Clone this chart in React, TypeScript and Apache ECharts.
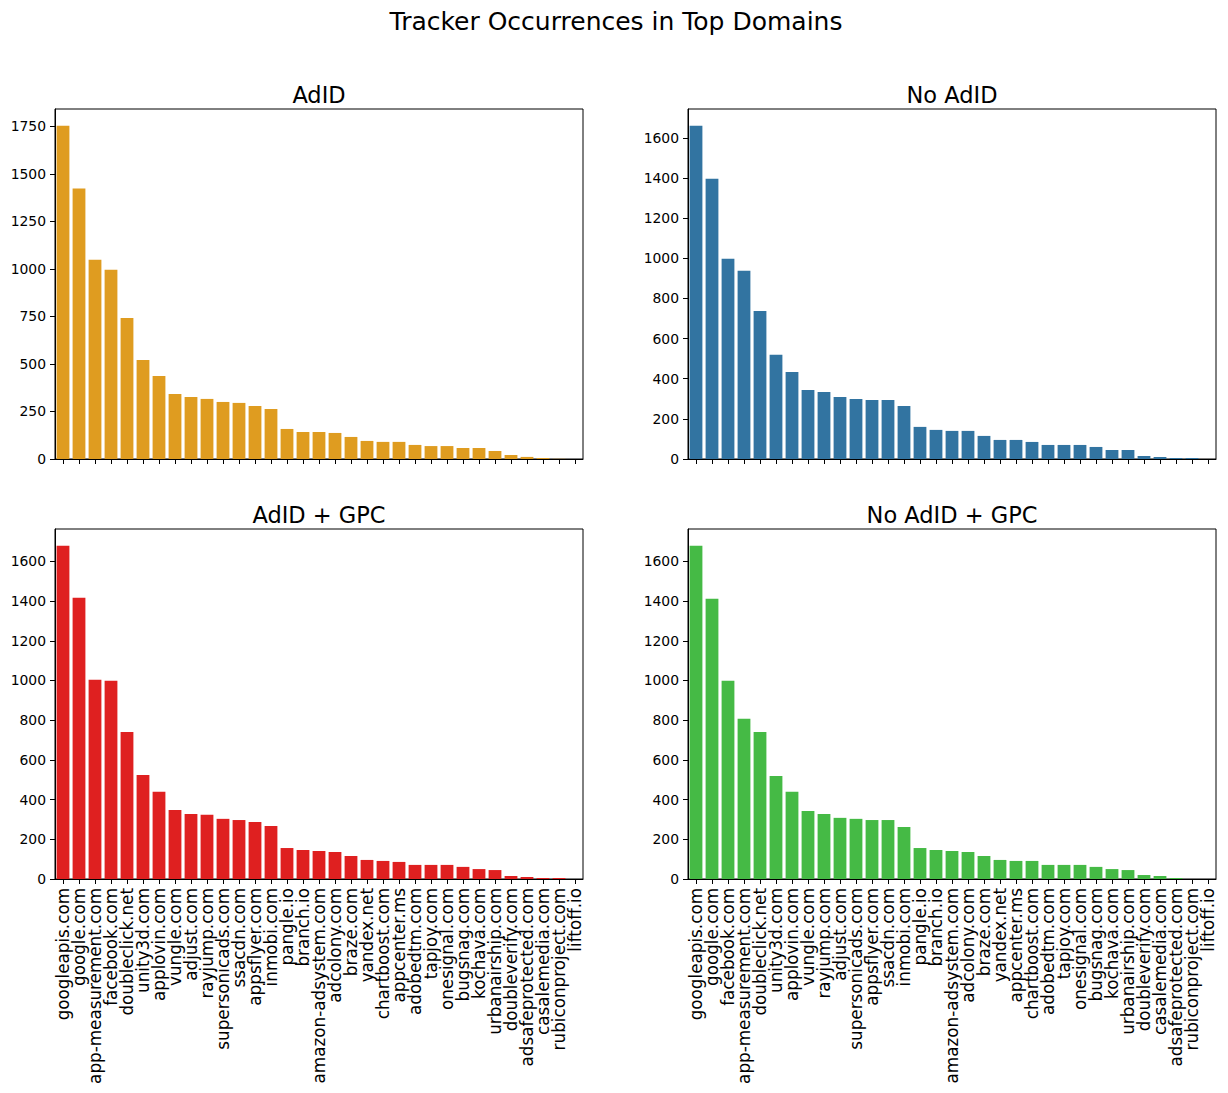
import React, { useEffect, useRef } from "react";
import * as echarts from "echarts";

const labelsLeft = [
  "googleapis.com", "google.com", "app-measurement.com", "facebook.com", "doubleclick.net",
  "unity3d.com", "applovin.com", "vungle.com", "adjust.com", "rayjump.com",
  "supersonicads.com", "ssacdn.com", "appsflyer.com", "inmobi.com", "pangle.io",
  "branch.io", "amazon-adsystem.com", "adcolony.com", "braze.com", "yandex.net",
  "chartboost.com", "appcenter.ms", "adobedtm.com", "tapjoy.com", "onesignal.com",
  "bugsnag.com", "kochava.com", "urbanairship.com", "doubleverify.com", "adsafeprotected.com",
  "casalemedia.com", "rubiconproject.com", "liftoff.io",
];

const labelsRight = [
  "googleapis.com", "google.com", "facebook.com", "app-measurement.com", "doubleclick.net",
  "unity3d.com", "applovin.com", "vungle.com", "rayjump.com", "adjust.com",
  "supersonicads.com", "appsflyer.com", "ssacdn.com", "inmobi.com", "pangle.io",
  "branch.io", "amazon-adsystem.com", "adcolony.com", "braze.com", "yandex.net",
  "appcenter.ms", "chartboost.com", "adobedtm.com", "tapjoy.com", "onesignal.com",
  "bugsnag.com", "kochava.com", "urbanairship.com", "doubleverify.com", "casalemedia.com",
  "adsafeprotected.com", "rubiconproject.com", "liftoff.io",
];

const adId = [1753, 1422, 1048, 995, 742, 521, 437, 342, 326, 316, 300, 295, 279, 263, 158, 142, 142, 137, 116, 95, 90, 90, 74, 68, 68, 58, 58, 42, 21, 11, 5, 1, 0];
const noAdId = [1661, 1397, 998, 938, 738, 519, 434, 344, 334, 309, 299, 294, 294, 264, 160, 145, 140, 140, 115, 95, 95, 85, 70, 70, 70, 60, 45, 45, 15, 10, 5, 5, 0];
const adIdGpc = [1679, 1417, 1003, 998, 741, 524, 439, 348, 328, 323, 303, 297, 287, 267, 156, 146, 141, 136, 116, 96, 91, 86, 71, 71, 71, 61, 50, 45, 15, 10, 5, 5, 0];
const noAdIdGpc = [1679, 1412, 998, 807, 741, 519, 439, 343, 328, 308, 303, 297, 297, 262, 156, 146, 141, 136, 116, 96, 91, 91, 71, 71, 71, 61, 50, 45, 20, 15, 5, 0, 0];

const ticksTopLeft = [0, 250, 500, 750, 1000, 1250, 1500, 1750];
const ticksOther = [0, 200, 400, 600, 800, 1000, 1200, 1400, 1600];

const titles = ["AdID", "No AdID", "AdID + GPC", "No AdID + GPC"];
const mainTitle = "Tracker Occurrences in Top Domains";

export default function App() {
  const ref = useRef<HTMLDivElement>(null);

  useEffect(() => {
    if (!ref.current) return;
    const chart = echarts.init(ref.current, undefined, { renderer: "svg" });
    const font = "DejaVu Sans";
    const W = 528;
    const H = 350;
    const panels = [
      { left: 55, top: 109, labels: labelsLeft, data: adId, ticks: ticksTopLeft, color: "#df9c20", show: false, title: titles[0] },
      { left: 688, top: 109, labels: labelsRight, data: noAdId, ticks: ticksOther, color: "#3274a1", show: false, title: titles[1] },
      { left: 55, top: 529, labels: labelsLeft, data: adIdGpc, ticks: ticksOther, color: "#df2020", show: true, title: titles[2] },
      { left: 688, top: 529, labels: labelsRight, data: noAdIdGpc, ticks: ticksOther, color: "#45ba45", show: true, title: titles[3] },
    ];

    const option: any = {
      animation: false,
      textStyle: { fontFamily: font },
      grid: panels.map((p) => ({
        left: p.left, top: p.top, width: W, height: H,
        show: true, borderColor: "#000", borderWidth: 1, backgroundColor: "#fff",
      })),
      xAxis: panels.map((p, i) => ({
        type: "category",
        gridIndex: i,
        data: p.labels,
        boundaryGap: true,
        axisLine: { show: true, lineStyle: { color: "#000", width: 1 } },
        axisTick: { show: true, alignWithLabel: true, interval: 0, length: 5, lineStyle: { color: "#000" } },
        axisLabel: { show: p.show, rotate: 90, interval: 0, fontSize: 16.8, color: "#000", margin: 9, fontFamily: font },
        splitLine: { show: false },
      })),
      yAxis: panels.map((p, i) => ({
        type: "value",
        gridIndex: i,
        min: 0,
        max: Math.max(...p.data) * 1.05,
        axisLine: { show: true, lineStyle: { color: "#000", width: 1 } },
        axisTick: { show: true, length: 5, lineStyle: { color: "#000" }, customValues: p.ticks },
        axisLabel: {
          fontSize: 13.9, color: "#000", margin: 9, fontFamily: font, customValues: p.ticks,
          formatter: (v: number) => String(Math.round(v)),
        },
        splitLine: { show: false },
      })),
      series: panels.map((p, i) => ({
        type: "bar",
        xAxisIndex: i,
        yAxisIndex: i,
        data: p.data,
        barWidth: "80%",
        itemStyle: { color: p.color },
      })),
      graphic: [
        {
          type: "text", x: 616, y: 21,
          style: { text: mainTitle, fontSize: 25, fontFamily: font, fill: "#000", align: "center", verticalAlign: "middle" },
        },
        ...panels.map((p) => ({
          type: "text", x: p.left + W / 2, y: p.top - 14,
          style: { text: p.title, fontSize: 22.5, fontFamily: font, fill: "#000", align: "center", verticalAlign: "middle" },
        })),
      ],
    };
    chart.setOption(option);
    return () => chart.dispose();
  }, []);

  return (
    <div
      ref={ref}
      style={{ position: "absolute", left: 0, top: 0, width: 1228, height: 1093, background: "#fff" }}
    />
  );
}
